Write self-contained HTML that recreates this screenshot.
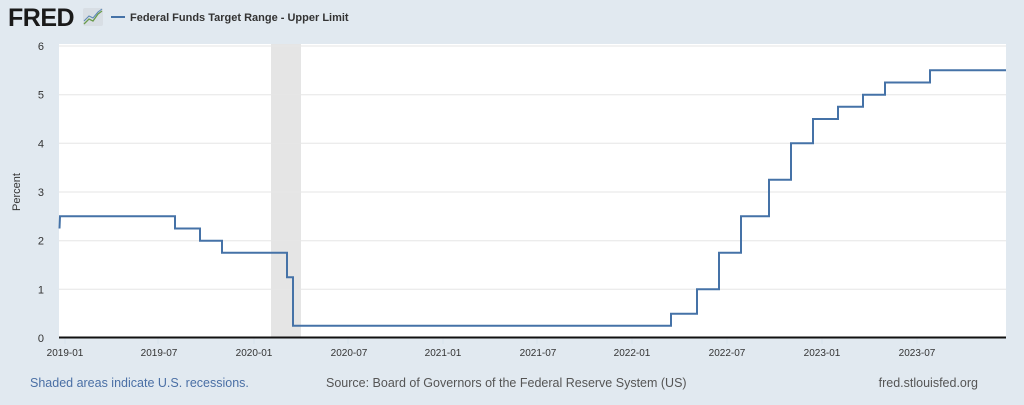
<!DOCTYPE html>
<html><head><meta charset="utf-8"><style>
html,body{margin:0;padding:0;background:#e1e9f0;}
svg{display:block;font-family:"Liberation Sans",Arial,sans-serif;}
</style></head><body>
<svg width="1024" height="405" viewBox="0 0 1024 405" xmlns="http://www.w3.org/2000/svg">
<rect width="1024" height="405" fill="#e1e9f0"/>
<text x="8" y="26" font-size="25" font-weight="bold" fill="#1a1a1a" letter-spacing="-0.5">FRED</text>
<rect x="83" y="8" width="20" height="18" rx="2" fill="#d8dee4"/>
<polyline points="84,24 89,19 93,21 98,14 102,11" fill="none" stroke="#6a9b4c" stroke-width="1.3"/>
<polyline points="84,21 89,16 93,18 98,12 102,9" fill="none" stroke="#5b87b5" stroke-width="1"/>
<line x1="111" y1="17" x2="125" y2="17" stroke="#4572a7" stroke-width="2"/>
<text x="130" y="21" font-size="11" font-weight="bold" fill="#333">Federal Funds Target Range - Upper Limit</text>
<rect x="59" y="44" width="947" height="294" fill="#fff"/>
<rect x="271" y="44" width="30" height="294" fill="#e5e5e5"/>
<g stroke="#e6e6e6" stroke-width="1">
<line x1="59" y1="46" x2="1006" y2="46"/><line x1="59" y1="94.7" x2="1006" y2="94.7"/>
<line x1="59" y1="143.3" x2="1006" y2="143.3"/><line x1="59" y1="192" x2="1006" y2="192"/>
<line x1="59" y1="240.7" x2="1006" y2="240.7"/><line x1="59" y1="289.3" x2="1006" y2="289.3"/>
</g>
<g stroke="#d8e2ec"><line x1="65" y1="338" x2="65" y2="344"/><line x1="158" y1="338" x2="158" y2="344"/><line x1="254" y1="338" x2="254" y2="344"/><line x1="348" y1="338" x2="348" y2="344"/><line x1="443" y1="338" x2="443" y2="344"/><line x1="537" y1="338" x2="537" y2="344"/><line x1="632" y1="338" x2="632" y2="344"/><line x1="727" y1="338" x2="727" y2="344"/><line x1="822" y1="338" x2="822" y2="344"/><line x1="917" y1="338" x2="917" y2="344"/></g>
<line x1="59" y1="337.5" x2="1006" y2="337.5" stroke="#111" stroke-width="2"/>
<polyline fill="none" stroke="#4572a7" stroke-width="2" points="59.5,228.5 60,216.3 175,216.3 175,228.5 200,228.5 200,240.7 222,240.7 222,252.8 287,252.8 287,277.2 293,277.2 293,325.8 671,325.8 671,313.7 697,313.7 697,289.3 719,289.3 719,252.8 741,252.8 741,216.3 769,216.3 769,179.8 791,179.8 791,143.3 813,143.3 813,119 838,119 838,106.8 863,106.8 863,94.7 885,94.7 885,82.5 930,82.5 930,70.3 1006,70.3"/>
<g font-size="11" fill="#333" text-anchor="end">
<text x="44" y="50">6</text><text x="44" y="98.7">5</text><text x="44" y="147.3">4</text><text x="44" y="196">3</text><text x="44" y="244.7">2</text><text x="44" y="293.3">1</text><text x="44" y="342">0</text>
</g>
<text x="20" y="192" font-size="11" fill="#333" text-anchor="middle" transform="rotate(-90 20 192)">Percent</text>
<g font-size="10" fill="#333" text-anchor="middle">
<text x="65" y="356">2019-01</text><text x="159" y="356">2019-07</text><text x="254" y="356">2020-01</text><text x="349" y="356">2020-07</text><text x="443" y="356">2021-01</text><text x="538" y="356">2021-07</text><text x="632" y="356">2022-01</text><text x="727" y="356">2022-07</text><text x="822" y="356">2023-01</text><text x="917" y="356">2023-07</text>
</g>
<text x="30" y="387" font-size="12.5" fill="#4a6fa5">Shaded areas indicate U.S. recessions.</text>
<text x="326" y="387" font-size="12.5" fill="#555">Source: Board of Governors of the Federal Reserve System (US)</text>
<text x="978" y="387" font-size="12.5" fill="#555" text-anchor="end">fred.stlouisfed.org</text>
</svg>
</body></html>
